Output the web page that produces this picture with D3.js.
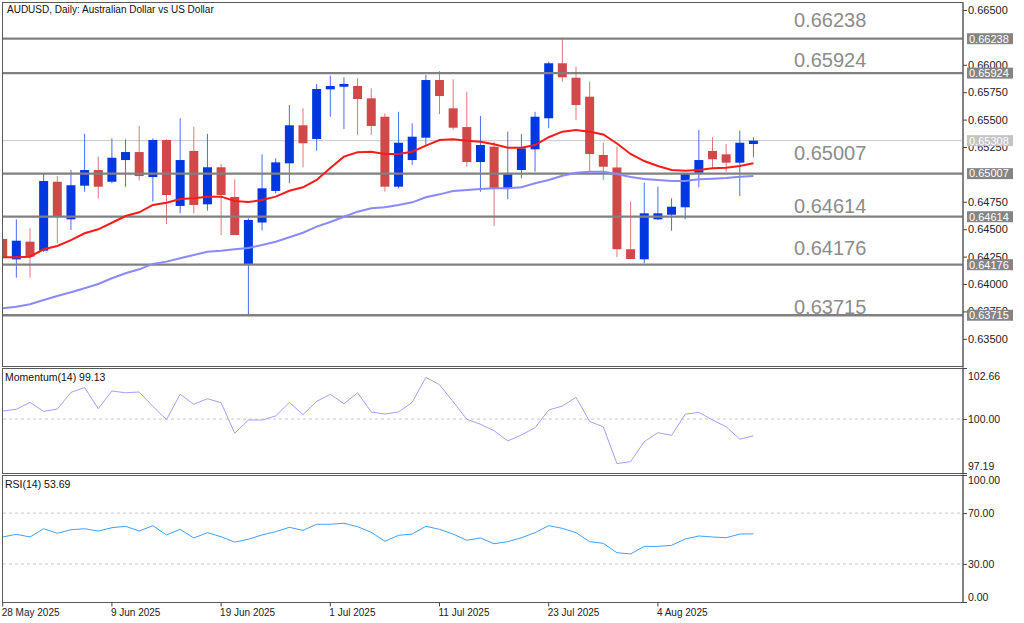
<!DOCTYPE html>
<html><head><meta charset="utf-8">
<script src="https://cdn.jsdelivr.net/npm/d3@7"></script>
<style>
html,body{margin:0;padding:0;background:#fff;}
text{font-family:"Liberation Sans",Arial,sans-serif;}
</style></head>
<body><svg id="c" width="1024" height="623"></svg>
<script>
// ---------- data ----------
const dates = ["2025-05-28","2025-05-29","2025-05-30","2025-06-02","2025-06-03","2025-06-04","2025-06-05","2025-06-06",
"2025-06-09","2025-06-10","2025-06-11","2025-06-12","2025-06-13","2025-06-16","2025-06-17","2025-06-18","2025-06-19","2025-06-20",
"2025-06-23","2025-06-24","2025-06-25","2025-06-26","2025-06-27","2025-06-30","2025-07-01","2025-07-02","2025-07-03","2025-07-04",
"2025-07-07","2025-07-08","2025-07-09","2025-07-10","2025-07-11","2025-07-14","2025-07-15","2025-07-16","2025-07-17","2025-07-18",
"2025-07-21","2025-07-22","2025-07-23","2025-07-24","2025-07-25","2025-07-28","2025-07-29","2025-07-30","2025-07-31","2025-08-01",
"2025-08-04","2025-08-05","2025-08-06","2025-08-07","2025-08-08","2025-08-11","2025-08-12","2025-08-13"];
const opens = [0.64411,0.64225,0.64386,0.64304,0.64933,0.64590,0.64897,0.65040,0.64933,0.65131,
0.65204,0.64976,0.65314,0.64712,0.65214,0.64727,0.65065,0.64794,0.64183,0.64561,
0.64849,0.65101,0.65448,0.65323,0.65776,0.65800,0.65807,0.65694,0.65526,0.64888,
0.65131,0.65335,0.65861,0.65603,0.65432,0.65113,0.65253,0.64873,0.65040,0.65229,
0.65512,0.66014,0.65882,0.65709,0.65177,0.65063,0.64317,0.64225,0.64590,0.64632,
0.64700,0.65015,0.65214,0.65183,0.65107,0.65277];
const highs = [0.64420,0.64590,0.64508,0.65010,0.64985,0.65040,0.65369,0.65162,0.65329,0.65320,
0.65442,0.65329,0.65320,0.65512,0.65435,0.65369,0.65095,0.64955,0.64599,0.65183,
0.65147,0.65633,0.65603,0.65825,0.65901,0.65886,0.65877,0.65786,0.65557,0.65572,
0.65466,0.65907,0.65943,0.65868,0.65755,0.65533,0.65298,0.65390,0.65369,0.65572,
0.66028,0.66233,0.65983,0.65846,0.65289,0.65253,0.64753,0.64924,0.64888,0.64782,
0.64985,0.65405,0.65339,0.65277,0.65399,0.65339];
const lows = [0.64230,0.64057,0.64057,0.64292,0.64371,0.64493,0.64842,0.64778,0.64919,0.64888,
0.64943,0.64753,0.64547,0.64645,0.64645,0.64669,0.64447,0.64447,0.63726,0.64488,
0.64828,0.64919,0.65065,0.65216,0.65526,0.65414,0.65360,0.65360,0.64842,0.64873,
0.65086,0.65268,0.65551,0.65411,0.65070,0.64842,0.64529,0.64773,0.64964,0.65025,
0.65421,0.65846,0.65496,0.65025,0.64949,0.64246,0.64225,0.64189,0.64584,0.64486,
0.64590,0.64882,0.65056,0.65025,0.64803,0.65156];
const closes = [0.64237,0.64395,0.64249,0.64940,0.64614,0.64901,0.65040,0.64888,0.65152,0.65204,
0.64985,0.65314,0.64812,0.65131,0.64721,0.65065,0.64812,0.64447,0.64584,0.64873,
0.65110,0.65448,0.65284,0.65779,0.65807,0.65825,0.65688,0.65442,0.64888,0.65289,
0.65344,0.65861,0.65715,0.65426,0.65113,0.65268,0.64873,0.65001,0.65238,0.65526,
0.66014,0.65886,0.65633,0.65186,0.65070,0.64317,0.64228,0.64645,0.64645,0.64705,
0.65004,0.65131,0.65138,0.65107,0.65289,0.65308];
const maFast = [0.64244,0.64244,0.64249,0.64317,0.64347,0.64401,0.64463,0.64499,0.64559,0.64620,
0.64654,0.64721,0.64742,0.64776,0.64782,0.64797,0.64797,0.64757,0.64748,0.64766,
0.64797,0.64851,0.64882,0.64949,0.65058,0.65162,0.65202,0.65207,0.65186,0.65186,
0.65207,0.65262,0.65314,0.65320,0.65307,0.65298,0.65275,0.65244,0.65244,0.65268,
0.65339,0.65390,0.65405,0.65390,0.65364,0.65282,0.65186,0.65122,0.65077,0.65040,
0.65034,0.65040,0.65056,0.65061,0.65077,0.65101];
const maSlow = [0.63778,0.63793,0.63815,0.63854,0.63891,0.63924,0.63961,0.64000,0.64052,0.64098,
0.64134,0.64183,0.64204,0.64235,0.64265,0.64295,0.64304,0.64317,0.64329,0.64356,
0.64386,0.64426,0.64468,0.64523,0.64566,0.64614,0.64660,0.64691,0.64700,0.64721,
0.64745,0.64791,0.64818,0.64849,0.64858,0.64867,0.64873,0.64873,0.64882,0.64919,
0.64949,0.64988,0.65015,0.65025,0.65025,0.65004,0.64976,0.64958,0.64949,0.64940,
0.64940,0.64955,0.64961,0.64967,0.64979,0.64985];
const momentum = [100.42,100.51,100.87,100.40,100.52,101.39,101.64,100.54,101.46,101.37,
101.41,100.66,99.97,101.29,100.77,101.06,100.85,99.26,99.95,99.95,
100.16,100.87,100.23,100.92,101.29,100.80,101.37,100.37,100.26,100.37,
100.87,102.17,101.79,100.90,99.99,99.73,99.39,98.86,99.17,99.55,
100.47,100.68,101.13,99.88,99.59,97.68,97.78,98.82,99.29,99.15,
100.25,100.35,99.95,99.60,98.95,99.13];
const rsi = [51.2,53.3,51.2,57.7,54.1,56.9,57.7,55.9,58.5,59.6,
55.9,60.1,52.8,57.2,50.4,54.6,51.4,47.2,49.4,52.8,
55.4,58.8,56.4,61.2,61.2,62.0,59.3,54.9,47.8,52.5,
53.5,59.6,57.2,53.5,48.6,50.4,45.9,47.5,50.6,54.6,
60.1,58.0,54.6,47.5,46.2,38.8,37.8,43.8,43.8,44.6,
49.6,52.0,51.2,50.6,53.5,53.69];
const levels = [0.66238,0.65924,0.65007,0.64614,0.64176,0.63715];
const levelTextAnchors = [0.66348,0.65983,0.65131,0.64645,0.64265,0.63726];
const lastPrice = 0.65308;
const priceTicks = [0.665,0.66,0.6575,0.655,0.6525,0.6475,0.645,0.6425,0.64,0.6375,0.635];
const momTicks = [97.19,100.00,102.66];
const momRef = [100];
const rsiTicks = [0,30,70,100];
const rsiRef = [30,70];
const dateTicks = ["2025-05-28","2025-06-09","2025-06-19","2025-07-01","2025-07-11","2025-07-23","2025-08-04"];
const dateTickLabels = ["28 May 2025","9 Jun 2025","19 Jun 2025","1 Jul 2025","11 Jul 2025","23 Jul 2025","4 Aug 2025"];
const title = "AUDUSD, Daily:  Australian Dollar vs US Dollar";
const momName = "Momentum(14) 99.13";
const rsiName = "RSI(14) 53.69";

// ---------- layout ----------
const L = 3, R = 963;
const main = {t:2.5, b:366.5}, mom = {t:368.5, b:473.5}, rp = {t:475.5, b:602.5};
const svg = d3.select("#c");
svg.append("rect").attr("width",1024).attr("height",623).attr("fill","#fff");

const step = 13.65;
const x = d3.scaleBand().domain(dates).range([2.7 - step/2, 2.7 - step/2 + step*dates.length]).padding(0);
const cx = d => x(d) + x.bandwidth()/2;
const y = d3.scaleLinear().domain([0.64, 0.665]).range([284, 10]);
const ym = d3.scaleLinear().domain([97.19, 102.66]).range([473, 368]);
const yr = d3.scaleLinear().domain([0, 100]).range([602, 475]);

const defs = svg.append("defs");
[["clipMain",main],["clipMom",mom],["clipRsi",rp]].forEach(([id,p])=>{
  defs.append("clipPath").attr("id",id).append("rect").attr("x",L).attr("y",p.t).attr("width",R-L).attr("height",p.b-p.t);
});

// pane frames
[main,mom,rp].forEach(p=>{
  svg.append("rect").attr("x",L-0.5).attr("y",p.t).attr("width",R-L+0.5).attr("height",p.b-p.t)
    .attr("fill","none").attr("stroke","#5a5a5a").attr("stroke-width",1);
});

// title
svg.append("text").attr("x",7).attr("y",13).attr("font-size",10).attr("fill","#111").text(title);

// ---------- main pane ----------
const gm = svg.append("g").attr("clip-path","url(#clipMain)");
gm.append("line").attr("x1",L).attr("x2",R).attr("y1",y(lastPrice)).attr("y2",y(lastPrice))
  .attr("stroke","#c8c8c8").attr("stroke-width",1);

const bull = "#0038e0", bear = "#d04848";
const idx = d3.range(dates.length);
gm.selectAll("line.wick").data(idx).join("line").attr("class","wick")
  .attr("x1",i=>cx(dates[i])).attr("x2",i=>cx(dates[i]))
  .attr("y1",i=>y(highs[i])).attr("y2",i=>y(lows[i]))
  .attr("stroke",i=>closes[i]>=opens[i]?"#4a6cf0":"#e07878").attr("stroke-width",1);
gm.selectAll("rect.body").data(idx).join("rect").attr("class","body")
  .attr("x",i=>cx(dates[i])-4.5).attr("width",9)
  .attr("y",i=>y(Math.max(opens[i],closes[i])))
  .attr("height",i=>Math.max(1.5, Math.abs(y(opens[i])-y(closes[i]))))
  .attr("fill",i=>closes[i]>=opens[i]?bull:bear);

gm.selectAll("line.lvl").data(levels).join("line").attr("class","lvl")
  .attr("x1",L).attr("x2",R).attr("y1",d=>y(d)).attr("y2",d=>y(d))
  .attr("stroke","#808080").attr("stroke-width",2.3);

const lineGen = arr => d3.line().x((d,i)=>cx(dates[i])).y(d=>y(d)).curve(d3.curveLinear)(arr);
gm.append("path").attr("d",lineGen(maSlow)).attr("fill","none").attr("stroke","#8a8aff").attr("stroke-width",2);
gm.append("path").attr("d",lineGen(maFast)).attr("fill","none").attr("stroke","#ff1a1a").attr("stroke-width",2);

svg.selectAll("text.lvlt").data(levels).join("text").attr("class","lvlt")
  .attr("x",794).attr("y",(d,i)=>y(levelTextAnchors[i]))
  .attr("font-size",20).attr("fill","#8c8c8c").text(d=>d.toFixed(5));

svg.append("line").attr("x1",R).attr("x2",R).attr("y1",main.t).attr("y2",rp.b).attr("stroke","#5a5a5a");

const ax = svg.append("g").attr("transform",`translate(${R},0)`)
  .call(d3.axisRight(y).tickValues(priceTicks).tickSize(4).tickPadding(1).tickFormat(d3.format(".5f")));
ax.select(".domain").remove();
ax.selectAll("line").attr("stroke","#444");
ax.selectAll("text").attr("font-size",11).attr("fill","#222").attr("font-family","Liberation Sans, Arial, sans-serif");

const boxes = levels.map(v=>({v, bg:"#848484"})).concat([{v:lastPrice, bg:"#c4c4c4"}]);
const bg = svg.selectAll("g.pbox").data(boxes).join("g").attr("class","pbox")
  .attr("transform",d=>`translate(${R+4},${y(d.v)})`);
bg.append("rect").attr("x",0).attr("y",-5.5).attr("width",46).attr("height",11).attr("fill",d=>d.bg);
bg.append("text").attr("x",2).attr("dy","0.35em").attr("font-size",11).attr("fill","#fff").text(d=>d.v.toFixed(5));

// ---------- momentum pane ----------
const gmo = svg.append("g").attr("clip-path","url(#clipMom)");
gmo.selectAll("line.ref").data(momRef).join("line").attr("x1",L).attr("x2",R)
  .attr("y1",d=>ym(d)).attr("y2",d=>ym(d)).attr("stroke","#c8c8c8").attr("stroke-dasharray","3,3");
gmo.append("path").attr("d",d3.line().x((d,i)=>cx(dates[i])).y(d=>ym(d))(momentum))
  .attr("fill","none").attr("stroke","#a0a0ff").attr("stroke-width",1);
svg.append("text").attr("x",5).attr("y",381).attr("font-size",10.5).attr("fill","#111").text(momName);
const axm = svg.append("g").attr("transform",`translate(${R},0)`)
  .call(d3.axisRight(ym).tickValues(momTicks).tickSize(4).tickPadding(1).tickFormat(d3.format(".2f")));
axm.select(".domain").remove();
axm.selectAll("line").attr("stroke","#444");
axm.selectAll("text").attr("font-size",10.5).attr("fill","#222").attr("font-family","Liberation Sans, Arial, sans-serif")
  .attr("dy",d=> d===momTicks[2] ? "1.05em" : d===momTicks[0] ? "-0.3em" : "0.32em");

// ---------- RSI pane ----------
const gr = svg.append("g").attr("clip-path","url(#clipRsi)");
gr.selectAll("line.ref").data(rsiRef).join("line").attr("x1",L).attr("x2",R)
  .attr("y1",d=>yr(d)).attr("y2",d=>yr(d)).attr("stroke","#c8c8c8").attr("stroke-dasharray","3,3");
gr.append("path").attr("d",d3.line().x((d,i)=>cx(dates[i])).y(d=>yr(d))(rsi))
  .attr("fill","none").attr("stroke","#3fa0ff").attr("stroke-width",1);
svg.append("text").attr("x",5).attr("y",488).attr("font-size",10.5).attr("fill","#111").text(rsiName);
const axr = svg.append("g").attr("transform",`translate(${R},0)`)
  .call(d3.axisRight(yr).tickValues(rsiTicks).tickSize(4).tickPadding(1).tickFormat(d3.format(".2f")));
axr.select(".domain").remove();
axr.selectAll("line").attr("stroke","#444");
axr.selectAll("text").attr("font-size",10.5).attr("fill","#222").attr("font-family","Liberation Sans, Arial, sans-serif")
  .attr("dy",d=> d===100 ? "0.85em" : d===0 ? "-0.15em" : "0.32em");

// ---------- date axis ----------
const axx = svg.append("g").attr("transform",`translate(0,${rp.b})`)
  .call(d3.axisBottom(x).tickValues(dateTicks).tickSize(4).tickPadding(2).tickFormat((d,i)=>dateTickLabels[i]));
axx.select(".domain").remove();
axx.selectAll("line").attr("stroke","#444");
axx.selectAll("text").attr("font-size",10).attr("fill","#222").attr("text-anchor","start")
  .attr("font-family","Liberation Sans, Arial, sans-serif").attr("dx",-1);
</script></body></html>
